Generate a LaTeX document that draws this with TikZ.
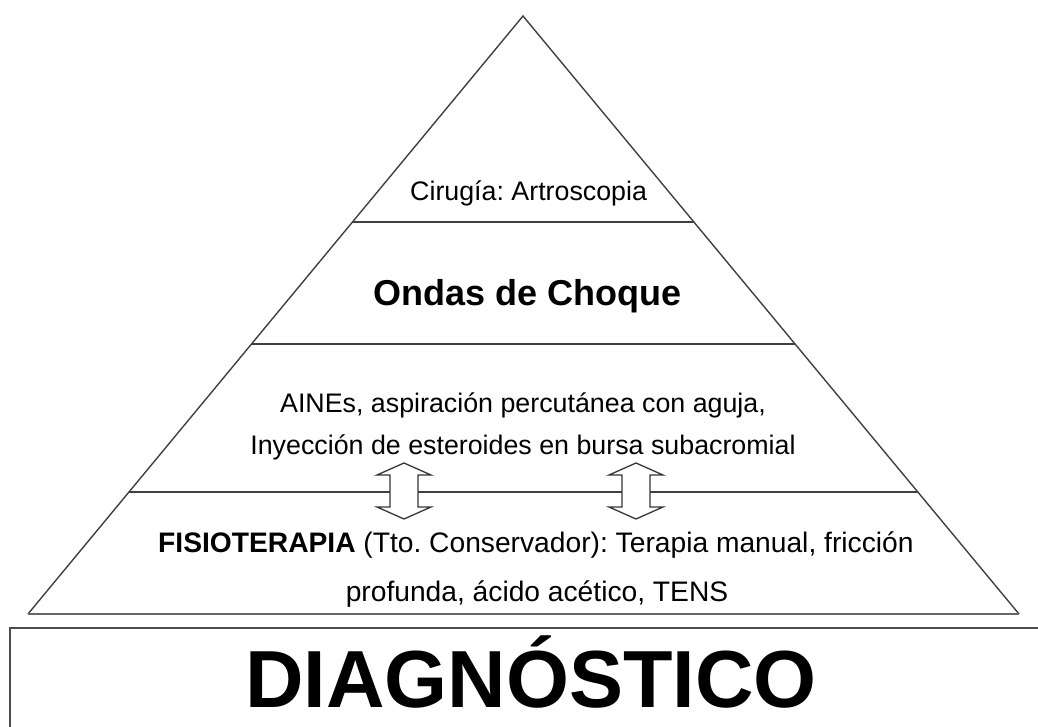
\documentclass[tikz,border=0pt]{standalone}
\usepackage{fontspec}
\setmainfont{Liberation Sans}
\usetikzlibrary{calc}

\tikzset{
  txt/.style={font=\fontsize{26.8}{32}\selectfont, inner sep=0pt},
  txtbig/.style={font=\fontsize{28.2}{34}\selectfont, inner sep=0pt},
  edge/.style={draw=black!75, line width=1.4pt},
  dblarrow/.style={draw=black!80, fill=white, line width=1.3pt, line join=miter}
}

\begin{document}
\frenchspacing
\begin{tikzpicture}[x=1pt,y=-1pt]
\useasboundingbox (0,0) rectangle (1038,727);
% pyramid
\coordinate (top) at (523,16);
\coordinate (bl) at (28,614);
\coordinate (br) at (1019,614);
\draw[edge] (bl) -- (top) -- (br);
\draw[draw=black!60, line width=2.6pt] (bl) -- (br);
% levels
\draw[edge] ($(top)!0.3445!(bl)$) -- ($(top)!0.3445!(br)$);
\draw[edge] ($(top)!0.5485!(bl)$) -- ($(top)!0.5485!(br)$);
\draw[edge] ($(top)!0.796!(bl)$) -- ($(top)!0.796!(br)$);
% texts
\node[txt, anchor=base west] (cirugia) at (410,201) {Cirugía: Artroscopia};
\node[txt, anchor=base west, font=\fontsize{36}{42}\selectfont\bfseries] (ondas) at (373,305) {Ondas de Choque};
\node[txt, anchor=base] (aines) at (523,412) {AINEs, aspiración percutánea con aguja,};
\node[txt, anchor=base] (inyec) at (523,454) {Inyección de esteroides en bursa subacromial};
\node[txtbig, anchor=base west] (fisio) at (158,552) {\textbf{FISIOTERAPIA} (Tto. Conservador): Terapia manual, fricción};
\node[txtbig, anchor=base] (prof) at (537,601) {profunda, ácido acético, TENS};
% double arrows
\foreach \cx in {404,636}
  \draw[dblarrow] (\cx,463) -- (\cx+27,475) -- (\cx+14,475) -- (\cx+14,507) -- (\cx+27,507)
    -- (\cx,519) -- (\cx-27,507) -- (\cx-14,507) -- (\cx-14,475) -- (\cx-27,475) -- cycle;
% diagnosis box
\draw[draw=black!70, line width=2.6pt] (1045,628) -- (10,628) -- (10,740);
\node[inner sep=0pt, anchor=base west, font=\fontsize{81}{90}\selectfont\bfseries] (diag) at (245,707) {DIAGNÓSTICO};
\end{tikzpicture}
\end{document}
